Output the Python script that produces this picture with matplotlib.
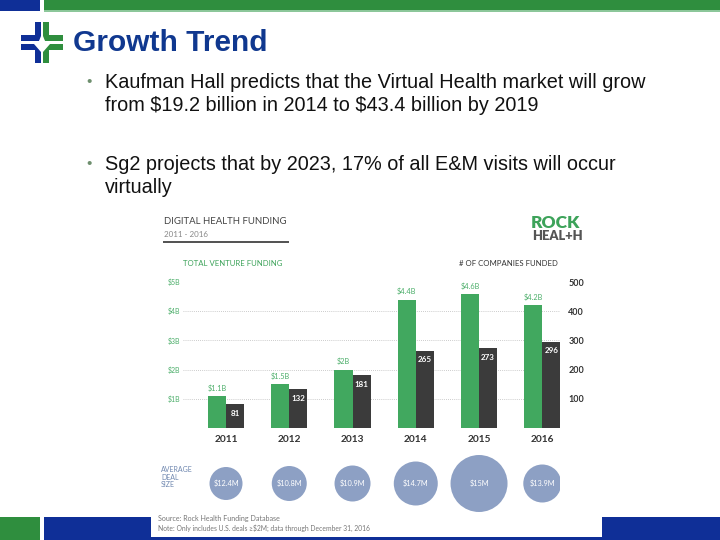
import matplotlib
matplotlib.use("Agg")
import matplotlib.pyplot as plt
from matplotlib.patches import Rectangle, Polygon

# datos
years = ["2011", "2012", "2013", "2014", "2015", "2016"]
funding_b = [1.1, 1.5, 2.0, 4.4, 4.6, 4.2]
funding_labels = ["1.1B", "1.5B", "2B", "4.4B", "4.6B", "4.2B"]
companies = [81, 132, 181, 265, 273, 296]
deal_size = ["12.4M", "10.8M", "10.9M", "14.7M", "15M", "13.9M"]
left_ticks = ["$1B", "$2B", "$3B", "$4B", "$5B"]
right_ticks = [100, 200, 300, 400, 500]
bullets = [
    "Kaufman Hall predicts that the Virtual Health market will grow\nfrom \\$19.2 billion in 2014 to \\$43.4 billion by 2019",
    "Sg2 projects that by 2023, 17% of all E&M visits will occur\nvirtually",
]

# estilo (tamanos de burbuja en pixeles, como en la imagen)
bubble_px = [33, 35, 36, 44, 57, 38]
BLUE = "#0F2F97"
GREEN = "#2F8E3E"
BAR_GREEN = "#41A85F"
BAR_DARK = "#3B3B3B"
BUBBLE = "#8DA0C4"

W, H = 720, 540
fig = plt.figure(figsize=(7.2, 5.4), dpi=100)


def fx(x):
    return x / W


def fy(y):
    return 1 - y / H


def rect(x0, y0, x1, y1, color, z=1):
    fig.add_artist(Rectangle((fx(x0), fy(y1)), (x1 - x0) / W, (y1 - y0) / H,
                             transform=fig.transFigure, color=color, zorder=z, lw=0))


def txt(x, y, s, **kw):
    fig.text(fx(x), fy(y), s, **kw)


def poly(pts, color, z=1):
    fig.add_artist(Polygon([(fx(a), fy(b)) for a, b in pts], closed=True,
                           transform=fig.transFigure, color=color, lw=0, zorder=z))


# barras superior e inferior
rect(0, 0, 40, 11, BLUE)
rect(44, 0, 720, 11, GREEN)
rect(44, 10, 720, 11.5, "#8CC79A")
rect(0, 517, 40, 540, GREEN)
rect(44, 517, 720, 540, BLUE)

# logo (cruz con corazon)
poly([(35, 22), (41, 22), (41, 36), (39, 41), (21, 41), (21, 35), (35, 35)], BLUE)
poly([(43, 22), (49, 22), (49, 35), (63, 35), (63, 41), (45, 41), (43, 36)], GREEN)
poly([(21, 44), (34, 44), (41, 52), (41, 63), (35, 63), (35, 50), (21, 50)], BLUE)
poly([(50, 44), (63, 44), (63, 50), (49, 50), (49, 63), (43, 63), (43, 52)], GREEN)
# corazon blanco al centro
poly([(42, 42), (39.5, 40.5), (37.5, 42), (37.5, 44.5), (42, 49.5), (46.5, 44.5),
      (46.5, 42), (44.5, 40.5)], "white", z=2)

txt(73, 43, "Growth Trend", fontsize=21.5, fontweight="bold", color="#10388F",
    family="Liberation Sans", va="center")

# vinetas
for yb, b in zip([82, 164], bullets):
    txt(86, yb, "\u2022", fontsize=11, color="#6E8F6E", va="center", family="Liberation Sans")
    txt(105, yb - 9, b, fontsize=14.3, color="#111111", va="top", linespacing=1.24,
        family="Liberation Sans")

# tarjeta blanca del grafico
rect(151, 206, 602, 537, "white", z=2)

FONT = "Lato"
txt(164, 222, "DIGITAL HEALTH FUNDING", fontsize=6.9, color="#444444", family=FONT,
    va="center", zorder=3)
txt(164, 235, "2011 - 2016", fontsize=5.8, color="#888888", family=FONT, va="center",
    zorder=3)
rect(163, 241.5, 289, 242.5, "#555555", z=3)
txt(183, 263, "TOTAL VENTURE FUNDING", fontsize=5.6, color="#3DA35A", family=FONT,
    va="center", zorder=3)
txt(459, 263, "# OF COMPANIES FUNDED", fontsize=5.6, color="#333333", family=FONT,
    va="center", zorder=3)
txt(531, 223, "ROCK", fontsize=12.5, fontweight="heavy", color="#3DA35A", family=FONT,
    va="center", zorder=3)
txt(532, 236.5, "HEAL+H", fontsize=9.3, fontweight="heavy", color="#555555", family=FONT,
    va="center", zorder=3)

# grafico de barras
ax = fig.add_axes([fx(183), fy(428), (560 - 183) / W, (428 - 282) / H], zorder=4)
ax.patch.set_alpha(0)
xs = list(range(len(years)))
bw = 0.285
green_vals = [v * 100 for v in funding_b]
ax.bar([x - bw / 2 for x in xs], green_vals, bw, color=BAR_GREEN, zorder=3)
ax.bar([x + bw / 2 for x in xs], companies, bw, color=BAR_DARK, zorder=3)
for x, v, lab in zip(xs, green_vals, funding_labels):
    ax.annotate("\\$" + lab, (x - bw / 2, v), xytext=(0, 3), textcoords="offset points",
                ha="center", va="bottom", fontsize=5.3, color="#4DAF6B", family=FONT)
for x, c in zip(xs, companies):
    ax.annotate(str(c), (x + bw / 2, c), xytext=(0, -4), textcoords="offset points",
                ha="center", va="top", fontsize=5.8, color="white", family=FONT,
                fontweight="bold")
ax.set_xlim(-0.68, 5.28)
ax.set_ylim(0, 500)
for g in [0, 100, 200, 300, 400]:
    ax.axhline(g, color="#BBBBBB", lw=0.6, ls=(0, (1, 1.5)), zorder=1)
ax.set_xticks(xs)
ax.set_xticklabels(years, fontsize=7.3, fontweight="bold", color="#333333", family=FONT)
ax.set_yticks(right_ticks)
ax.set_yticklabels(left_ticks, fontsize=5, color="#4DAF6B", family=FONT)
ax.tick_params(axis="x", length=0, pad=5)
ax.tick_params(axis="y", length=0, pad=2)
for s in ax.spines.values():
    s.set_visible(False)
ax2 = ax.twinx()
ax2.set_ylim(0, 500)
ax2.set_yticks(right_ticks)
ax2.set_yticklabels([str(t) for t in right_ticks], fontsize=6.5, fontweight="bold",
                    color="#333333", family=FONT)
ax2.tick_params(length=0, pad=6)
for s in ax2.spines.values():
    s.set_visible(False)

# burbujas de tamano promedio
bx = fig.add_axes([fx(183), fy(515), (560 - 183) / W, (515 - 452) / H], zorder=4)
bx.patch.set_alpha(0)
bx.set_xlim(-0.68, 5.28)
bx.set_ylim(0, 1)
bx.axis("off")
sizes = [(d * 0.72) ** 2 for d in bubble_px]
bx.scatter(xs, [0.5] * len(xs), s=sizes, color=BUBBLE, lw=0, zorder=2)
for x, lab in zip(xs, deal_size):
    bx.text(x, 0.5, "\\$" + lab, ha="center", va="center", fontsize=5.3, color="white",
            family=FONT, zorder=3)

txt(161, 477, "AVERAGE\nDEAL\nSIZE", fontsize=5, color="#7088B0", family=FONT,
    va="center", linespacing=1.1, zorder=3)
txt(158, 518, "Source: Rock Health Funding Database", fontsize=5.1, color="#777777",
    family=FONT, va="center", zorder=3)
txt(158, 528, "Note: Only includes U.S. deals \u2265\\$2M; data through December 31, 2016",
    fontsize=4.9, color="#777777", family=FONT, va="center", zorder=3)

fig.savefig("out.png", dpi=100)
